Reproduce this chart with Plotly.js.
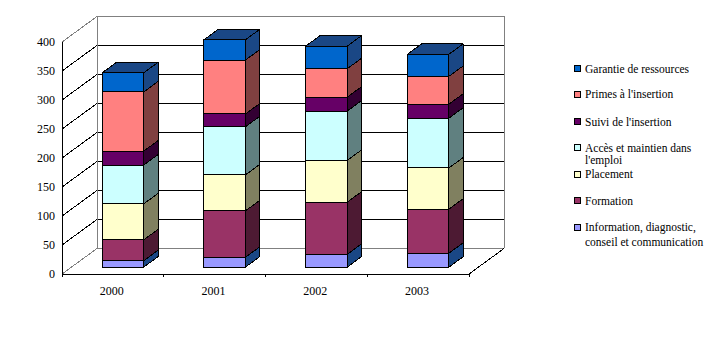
<!DOCTYPE html>
<html><head><meta charset="utf-8">
<script src="https://cdn.plot.ly/plotly-3.0.1.min.js"></script>
<style>html,body{margin:0;padding:0;background:#fff}
#c svg path{shape-rendering:crispEdges}</style>
</head><body><div id="c" style="width:715px;height:356px"></div>
<script>
const years = ['2000','2001','2002','2003'];
const information = [11,17,22,24];
const formation   = [36,80,90,76];
const placement   = [62,62,72,71];
const acces       = [67,83,85,86];
const suivi       = [24,22,24,24];
const primes      = [102,93,49,48];
const garantie    = [33,35,39,38];
const seriesNames = ['Information, diagnostic,','Formation','Placement','Accès et maintien dans','Suivi de l\'insertion','Primes à l\'insertion','Garantie de ressources'];
const seriesWrap  = ['conseil et communication','','','l\'emploi','','',''];
const seriesValues = [information,formation,placement,acces,suivi,primes,garantie];
const frontColors = ['#9999FF','#993366','#FFFFCC','#CCFFFF','#660066','#FF8080','#0066CC'];
const sideColors  = ['#1A4785','#4D1A33','#808060','#608080','#330033','#804040','#1A4785'];
const yTicks = [0,50,100,150,200,250,300,350,400];

const F = 'Liberation Serif, Times New Roman, serif';
const pad=6;
const L=62-pad,R=503+pad,T=16-pad,B=274+pad;
const pxPerCat=101.75, pxPerVal=0.58;
const wallDx=0.344, wallDy=44;              // depth of the floor in axis units
const fFront=0.27, fDepth=0.41;             // where the bars stand in that depth
const barW=0.408;
const xFront=i=>i+0.506+wallDx*fFront;
const yFloor=wallDy*fFront;
const ddx=wallDx*fDepth, ddy=wallDy*fDepth;

const traces=[];
// front faces
let cum=years.map(()=>0);
const bases=[];
seriesValues.forEach((vals,s)=>{
  const base=cum.map(c=>c+yFloor);
  bases.push(cum.slice());
  traces.push({type:'bar',name:seriesNames[s]+(seriesWrap[s]?' '+seriesWrap[s]:''),x:years.map((_,i)=>xFront(i)),y:vals,base:base,width:barW,
    marker:{color:frontColors[s],line:{color:'#000',width:1}},showlegend:false,hoverinfo:'y+name'});
  cum=cum.map((c,i)=>c+vals[i]);
});
// side faces
seriesValues.forEach((vals,s)=>{
  const xs=[],ys=[];
  years.forEach((_,i)=>{
    const xr=xFront(i)+barW/2, lo=bases[s][i]+yFloor, hi=lo+vals[i];
    xs.push(xr,xr+ddx,xr+ddx,xr,xr,null);
    ys.push(lo,lo+ddy,hi+ddy,hi,lo,null);
  });
  traces.push({type:'scatter',mode:'lines',x:xs,y:ys,fill:'toself',fillcolor:sideColors[s],line:{color:'#000',width:1},showlegend:false,hoverinfo:'skip'});
});
// top faces
{
  const xs=[],ys=[];
  years.forEach((_,i)=>{
    const xl=xFront(i)-barW/2,xr=xl+barW,h=cum[i]+yFloor;
    xs.push(xl,xr,xr+ddx,xl+ddx,xl,null);
    ys.push(h,h,h+ddy,h+ddy,h,null);
  });
  traces.push({type:'scatter',mode:'lines',x:xs,y:ys,fill:'toself',fillcolor:sideColors[6],line:{color:'#000',width:1},showlegend:false,hoverinfo:'skip'});
}
const topV=yTicks[yTicks.length-1], nCat=years.length;
const GRAY='#808080', BLK='#000';
const shapes=[];
const ln=(x0,y0,x1,y1,c)=>shapes.push({type:'line',xref:'x',yref:'y',x0,y0,x1,y1,layer:'below',line:{color:c,width:1}});
// walls, floor and gridlines
yTicks.forEach(v=>{
  const edge=(v===0||v===topV);
  ln(0,v,wallDx,v+wallDy,edge?GRAY:BLK);
  ln(wallDx,v+wallDy,nCat+wallDx,v+wallDy,edge?GRAY:BLK);
});
ln(wallDx,wallDy,wallDx,topV+wallDy,GRAY);
ln(nCat+wallDx,wallDy,nCat+wallDx,topV+wallDy,GRAY);
// axes
ln(0,0,0,topV,BLK);
ln(0,0,nCat,0,BLK);
ln(nCat,0,nCat+wallDx,wallDy,BLK);
for(let i=0;i<=nCat;i++) ln(i,0,i,-3/pxPerVal,BLK);

// legend
const legendY=[227,200.7,174,147.7,121.7,94.3,68.5];
const legendWrapY=[241.5,0,0,160.5,0,0,0];
const px=x=>(x-L)/(R-L), py=y=>(B-y)/(B-T);
const annotations=[];
const note=(text,y)=>annotations.push({xref:'paper',yref:'paper',x:px(584),y:py(y),xanchor:'left',yanchor:'middle',align:'left',showarrow:false,text,borderpad:0,font:{family:F,size:11.5,color:'#000'}});
seriesNames.forEach((n,s)=>{
  const y=legendY[s];
  shapes.push({type:'rect',xref:'paper',yref:'paper',x0:px(574.5),x1:px(580.5),y0:py(y+3),y1:py(y-3),fillcolor:frontColors[s],line:{color:'#000',width:1}});
  note(n,y);
  if(seriesWrap[s]) note(seriesWrap[s],legendWrapY[s]);
});

Plotly.newPlot('c',traces,{
  width:715,height:356,autosize:false,showlegend:false,
  paper_bgcolor:'#fff',plot_bgcolor:'#fff',
  margin:{l:L,r:715-R,t:T,b:356-B,pad:0},
  barmode:'overlay',
  xaxis:{type:'linear',range:[-pad/pxPerCat,(503+pad-62)/pxPerCat],tickmode:'array',tickvals:years.map((_,i)=>i+0.49),ticktext:years,ticks:'',
    showgrid:false,zeroline:false,showline:false,ticklabelstandoff:2,tickfont:{family:F,size:12,color:'#000'}},
  yaxis:{range:[-pad/pxPerVal,(274-16+pad)/pxPerVal],tickmode:'array',tickvals:yTicks,ticks:'',showgrid:false,zeroline:false,showline:false,
    ticklabelstandoff:0,tickfont:{family:F,size:12,color:'#000'}},
  shapes,annotations
},{displayModeBar:false,staticPlot:true});
</script></body></html>
